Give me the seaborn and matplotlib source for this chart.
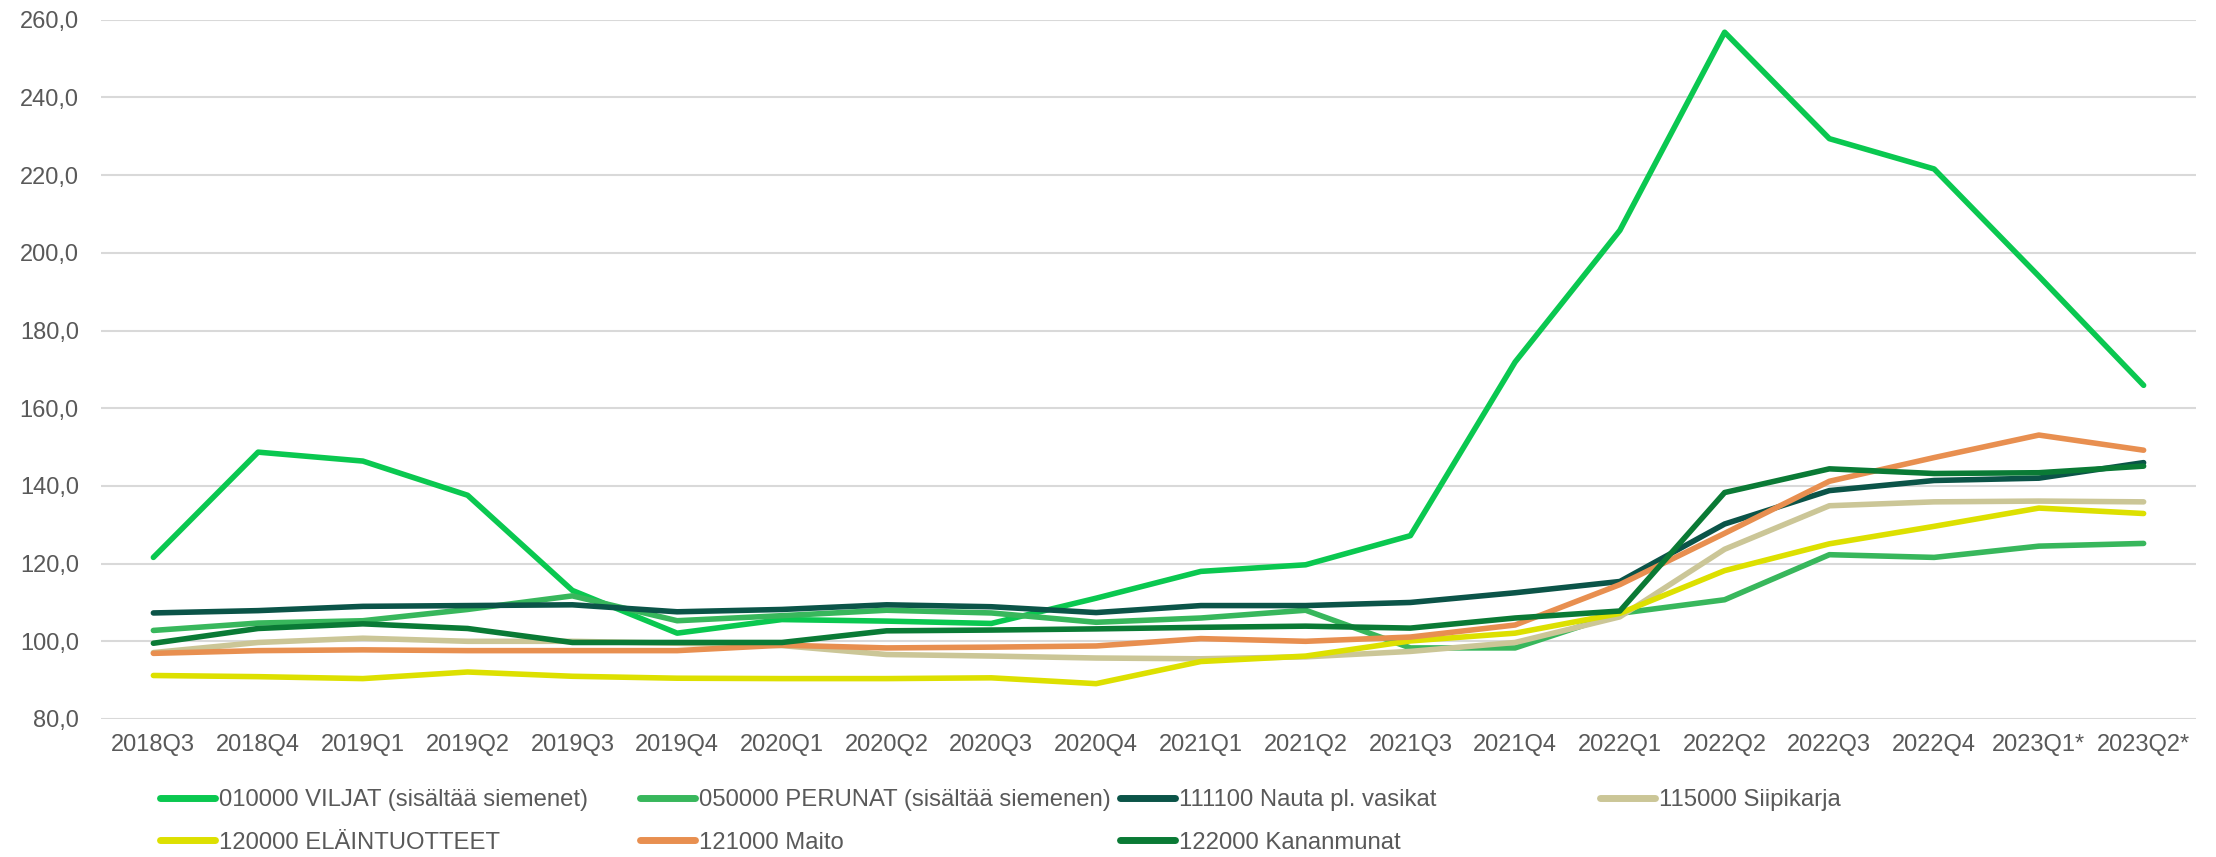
import matplotlib
matplotlib.use("Agg")
import matplotlib.pyplot as plt
import seaborn as sns
import pandas as pd
from matplotlib.ticker import FuncFormatter, MultipleLocator
from matplotlib.lines import Line2D

quarters = ["2018Q3", "2018Q4", "2019Q1", "2019Q2", "2019Q3", "2019Q4",
            "2020Q1", "2020Q2", "2020Q3", "2020Q4", "2021Q1", "2021Q2",
            "2021Q3", "2021Q4", "2022Q1", "2022Q2", "2022Q3", "2022Q4",
            "2023Q1*", "2023Q2*"]

viljat = [121.6, 148.7, 146.4, 137.6, 113.1, 102.1, 105.6, 105.2, 104.6, 111.1,
          118.0, 119.7, 127.2, 171.9, 205.8, 256.8, 229.4, 221.6, 194.0, 165.9]
perunat = [102.8, 104.7, 105.3, 108.2, 111.7, 105.3, 106.6, 108.0, 107.3, 104.9,
           106.0, 108.0, 98.3, 98.3, 107.2, 110.7, 122.3, 121.6, 124.5, 125.2]
nauta = [107.3, 107.9, 109.0, 109.2, 109.4, 107.6, 108.2, 109.4, 108.9, 107.4,
         109.2, 109.2, 110.0, 112.5, 115.4, 130.2, 138.8, 141.4, 142.0, 146.0]
siipikarja = [97.1, 99.7, 100.8, 100.0, 100.0, 99.5, 98.9, 96.6, 96.2, 95.7,
              95.5, 96.0, 97.4, 99.7, 106.3, 123.7, 134.9, 135.9, 136.1, 135.9]
elaintuotteet = [91.2, 90.9, 90.4, 92.1, 91.0, 90.5, 90.4, 90.4, 90.6, 89.1,
                 94.8, 96.2, 100.1, 102.1, 107.2, 118.2, 125.1, 129.6, 134.3, 132.9]
maito = [96.9, 97.6, 97.8, 97.6, 97.6, 97.6, 99.0, 98.3, 98.5, 98.8,
         100.7, 100.0, 101.1, 104.2, 114.6, 127.8, 141.2, 147.3, 153.1, 149.2]
kananmunat = [99.5, 103.3, 104.5, 103.3, 99.7, 99.7, 99.7, 102.7, 102.9, 103.2,
              103.6, 103.9, 103.4, 106.0, 107.8, 138.3, 144.4, 143.2, 143.4, 145.1]

series_names = ["010000 VILJAT (sisältää siemenet)",
                "050000 PERUNAT (sisältää siemenen)",
                "111100 Nauta pl. vasikat",
                "115000 Siipikarja",
                "120000 ELÄINTUOTTEET",
                "121000 Maito",
                "122000 Kananmunat"]
series_values = [viljat, perunat, nauta, siipikarja, elaintuotteet, maito, kananmunat]
colors = ["#0ac850", "#38b75c", "#0b5448", "#cbc697", "#dde000", "#e88f50", "#0a7a35"]

rows = []
for name, vals in zip(series_names, series_values):
    for i, (q, v) in enumerate(zip(quarters, vals)):
        rows.append({"pos": i, "quarter": q, "series": name, "value": v})
df = pd.DataFrame(rows)

sns.set_theme(style="white")
plt.rcParams["font.family"] = ["Liberation Sans", "DejaVu Sans"]

fig = plt.figure(figsize=(22.16, 8.57), dpi=100)
ax = fig.add_axes([101 / 2216, 1 - 719 / 857, (2196 - 101) / 2216, (719 - 19.8) / 857])

palette = dict(zip(series_names, colors))
sns.lineplot(data=df, x="pos", y="value", hue="series", hue_order=series_names,
             palette=palette, linewidth=4, sort=False, legend=False, ax=ax,
             solid_capstyle="round")

ax.set_xlim(-0.5, len(quarters) - 0.5)
ax.set_ylim(80, 260)
ax.yaxis.set_major_locator(MultipleLocator(20))
ax.yaxis.set_major_formatter(FuncFormatter(lambda v, p: f"{v:.1f}".replace(".", ",")))
ax.set_xticks(range(len(quarters)))
ax.set_xticklabels(quarters)
ax.set_xlabel("")
ax.set_ylabel("")
ax.grid(axis="y", color="#d9d9d9", linewidth=1.5)
ax.grid(axis="x", visible=False)
ax.set_axisbelow(True)
for s in ax.spines.values():
    s.set_visible(False)
ax.tick_params(axis="y", length=0, pad=16, labelsize=17, labelcolor="#595959")
ax.tick_params(axis="x", length=0, pad=11, labelsize=17, labelcolor="#595959")

# legend: 4 equal-width columns like Excel
col_x = [160, 640, 1120, 1600]
col_items = [[0, 4], [1, 5], [2, 6], [3]]
for cx, items in zip(col_x, col_items):
    handles = [Line2D([], [], color=colors[i], linewidth=5, solid_capstyle="round")
               for i in items]
    labels = [series_names[i] for i in items]
    fig.legend(handles, labels, loc="upper left",
               bbox_to_anchor=(cx / 2216, 1 - 789 / 857),
               frameon=False, fontsize=17.2, labelcolor="#595959",
               borderpad=0, borderaxespad=0, handlelength=2.3,
               handletextpad=0.15, labelspacing=0.87)

fig.savefig("out.png", dpi=100)
